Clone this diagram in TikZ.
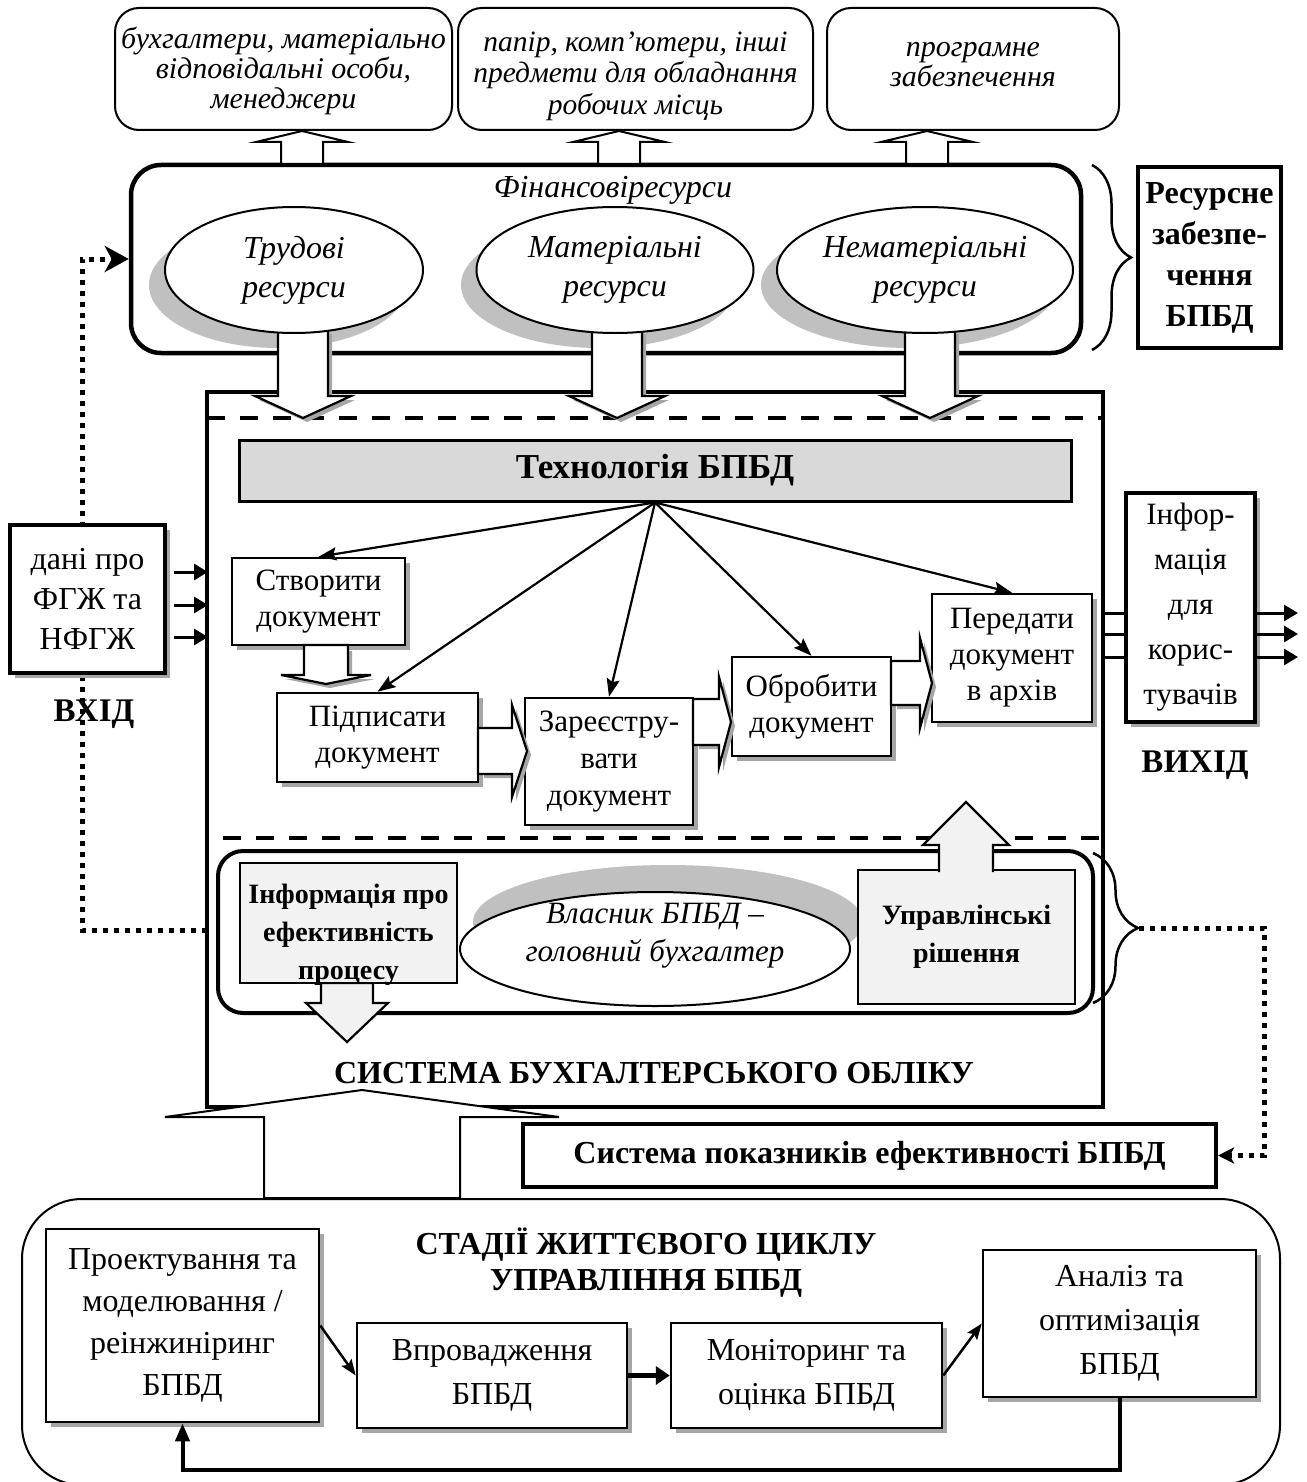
\documentclass[tikz,border=0pt]{standalone}
\usepackage{fontspec}
\setmainfont{Liberation Serif}
\usetikzlibrary{shapes.geometric,shadows,arrows.meta,decorations.pathreplacing}

\definecolor{shadowgray}{HTML}{A6A6A6}
\definecolor{ellgray}{HTML}{C0C0C0}
\definecolor{bargray}{HTML}{D9D9D9}
\definecolor{pale}{HTML}{F2F2F2}

\newcommand{\fnt}[2]{\fontsize{#1}{#2}\selectfont}
% block arrows: [style]{centre}{tail}{head base}{tip}{half shaft}{half head}
\newcommand{\blkV}[7][]{\path[#1] (#2-#6,#3) -- (#2-#6,#4) -- (#2-#7,#4) -- (#2,#5) -- (#2+#7,#4) -- (#2+#6,#4) -- (#2+#6,#3);}
\newcommand{\blkVc}[7][]{\path[#1] (#2-#6,#3) -- (#2-#6,#4) -- (#2-#7,#4) -- (#2,#5) -- (#2+#7,#4) -- (#2+#6,#4) -- (#2+#6,#3) -- cycle;}
\newcommand{\blkHc}[7][]{\path[#1] (#3,#2-#6) -- (#4,#2-#6) -- (#4,#2-#7) -- (#5,#2) -- (#4,#2+#7) -- (#4,#2+#6) -- (#3,#2+#6) -- cycle;}

\begin{document}
\begin{tikzpicture}[x=1pt,y=-1pt,
  box/.style={draw, line width=2.5pt, fill=white, inner sep=0pt, align=center, font=\fnt{31}{36}},
  shbox/.style={box, general shadow={fill=shadowgray, shadow xshift=5pt, shadow yshift=-5pt}},
  topbox/.style={draw, line width=2pt, rounded corners=24pt, fill=white, inner sep=0pt},
  toptext/.style={inner sep=0pt, align=center},
  ell/.style={ellipse, draw, line width=2pt, fill=white, inner sep=0pt, align=center, font=\itshape\fnt{32}{39}},
  harrow/.style={draw, fill=white, line width=2.2pt, line join=miter},
  hshadow/.style={fill=shadowgray, draw=none, shift={(4,4)}},
  palearrow/.style={draw, fill=pale, line width=2.2pt, line join=miter},
  fan/.style={line width=2.2pt, -{Stealth[length=18pt,width=13pt,inset=3pt]}},
  inarr/.style={line width=3pt, -{Triangle[length=14pt,width=16pt]}},
  dotline/.style={line width=5pt, dash pattern=on 5pt off 6pt},
  bracedeco/.style={line width=2.5pt, decorate, decoration={brace, amplitude=#1}},
  label/.style={inner sep=0pt, align=center, font=\bfseries\fnt{32}{36}},
  stage/.style={shbox, font=\fnt{32}{44}},
  stagearr/.style={line width=2.5pt, -{Stealth[length=16pt,width=12pt,inset=3pt]}}
]
\fill[white] (0,0) rectangle (1306,1482);
\useasboundingbox (0,0) rectangle (1306,1482);

% ---------- resources: what they provide ----------
\node[topbox, minimum width=337pt, minimum height=122pt] (t1) at (283.5,69) {};
\node[toptext, font=\itshape\fnt{30}{30}] (t1text) at (283.5,71)
  {бухгалтери, матеріально\\відповідальні особи,\\менеджери};
\node[topbox, minimum width=355pt, minimum height=122pt] (t2) at (635.5,69) {};
\node[toptext, font=\itshape\fnt{29.5}{31.5}] (t2text) at (635.5,76)
  {папір, комп’ютери, інші\\предмети для обладнання\\робочих місць};
\node[topbox, minimum width=292pt, minimum height=122pt] (t3) at (973,69) {};
\node[toptext, font=\itshape\fnt{30}{30}] (t3text) at (973,65) {програмне\\забезпечення};

% ---------- financial resources ----------
\node[draw, line width=4.5pt, rounded corners=30pt, fill=white, minimum width=950pt, minimum height=188pt] (fin) at (606,259) {};
\node[inner sep=0pt, font=\itshape\fnt{32}{32}] (fintitle) at (613,190) {Фінансовіресурси};

\blkVc[harrow, line width=2pt]{302}{164}{142}{131}{21}{46}
\blkVc[harrow, line width=2pt]{619}{164}{142}{131}{21}{46}
\blkVc[harrow, line width=2pt]{927}{164}{142}{131}{21}{46}

\node[draw, line width=4pt, fill=white, minimum width=143pt, minimum height=181pt, inner sep=0pt, align=center,
      font=\bfseries\fnt{32}{41}] (res) at (1209.5,257.5) {Ресурсне\\забезпе-\\чення\\БПБД};
\draw[bracedeco=39pt] (1092,165) -- (1092,350);

% ---------- accounting system frame ----------
\node[draw, line width=3.5pt, minimum width=896pt, minimum height=715pt, inner sep=0pt] (sys) at (655,749.5) {};
\draw[line width=4.5pt, dash pattern=on 18pt off 15pt] (207,418) -- (1103,418) -- (1103,838) -- (207,838) -- cycle;

% resource ellipses with their shadows
\fill[ellgray] (278,285) ellipse [x radius=129, y radius=63];
\fill[ellgray] (599,285) ellipse [x radius=138, y radius=63];
\fill[ellgray] (909,285) ellipse [x radius=148, y radius=63];

\blkV[hshadow]{303}{330}{396}{418}{25}{48}
\blkVc[harrow]{303}{320}{396}{418}{25}{48}
\blkV[hshadow]{617}{330}{396}{418}{25}{48}
\blkVc[harrow]{617}{320}{396}{418}{25}{48}
\blkV[hshadow]{930}{330}{396}{418}{25}{48}
\blkVc[harrow]{930}{320}{396}{418}{25}{48}

\node[ell, minimum width=258pt, minimum height=126pt] (e1) at (294,270) {Трудові\\ресурси};
\node[ell, minimum width=277pt, minimum height=126pt] (e2) at (615,270) {Матеріальні\\ресурси};
\node[ell, minimum width=296pt, minimum height=126pt] (e3) at (925,270) {Нематеріальні\\ресурси};

% ---------- document technology ----------
\node[draw, line width=3pt, fill=bargray, minimum width=832pt, minimum height=61pt, inner sep=0pt,
      font=\bfseries\fnt{35}{40}] (tech) at (655,470.5) {Технологія БПБД};

\node[shbox, minimum width=173pt, minimum height=87pt] (create) at (318.5,601.5) {Створити\\документ};
\node[shbox, minimum width=201pt, minimum height=89pt] (sign) at (377.5,737.5) {Підписати\\документ};
\node[shbox, minimum width=168pt, minimum height=127pt, font=\fnt{31}{37}] (register) at (609,761.5) {Зареєстру-\\вати\\документ};
\node[shbox, minimum width=159pt, minimum height=99pt] (process) at (811.5,706.5) {Обробити\\документ};
\node[shbox, minimum width=160pt, minimum height=128pt] (transfer) at (1012,658) {Передати\\документ\\в архів};

\draw[fan] (tech.south) -- (create.north);
\draw[fan] (tech.south) -- (sign.north);
\draw[fan] (tech.south) -- (register.north);
\draw[fan] (tech.south) -- (process.north);
\draw[fan] (tech.south) -- (transfer.north);

\blkV[hshadow]{326}{647}{675}{684}{22}{45}
\blkVc[harrow]{326}{645}{675}{684}{22}{45}
\blkHc[hshadow]{751}{480}{512}{527}{23}{46}
\blkHc[harrow]{751}{478}{512}{527}{23}{46}
\blkHc[hshadow]{722}{695}{719}{731}{23}{45}
\blkHc[harrow]{722}{693}{719}{731}{23}{45}
\blkHc[hshadow]{683}{893}{920}{932}{22}{45}
\blkHc[harrow]{683}{891}{920}{932}{22}{45}

% ---------- feedback to the financial resources ----------
\coordinate (fbL) at (207,930);
\draw[dotline, -{Stealth[length=24pt,width=26pt,inset=7pt]}] (fbL) -- (82,930) -- (82,259) -- (fin.west);

% ---------- input and output ----------
\node[shbox, line width=4pt, minimum width=155pt, minimum height=148pt, font=\fnt{32}{40}] (data) at (87.5,599) {дані про\\ФГЖ та\\НФГЖ};
\draw[inarr] ([xshift=7pt,yshift=27pt]data.east) -- ++(34,0);
\draw[inarr] ([xshift=7pt,yshift=-6pt]data.east) -- ++(34,0);
\draw[inarr] ([xshift=7pt,yshift=-38pt]data.east) -- ++(34,0);
\node[label, font=\bfseries\fnt{33}{36}] (inlabel) at (94,714) {ВХІД};

\node[shbox, line width=4pt, minimum width=129pt, minimum height=229pt, font=\fnt{31}{45}] (users) at (1190.5,607.5) {Інфор-\\мація\\для\\корис-\\тувачів};
\draw[line width=3pt] ([yshift=-5.5pt]users.west) -- ++(-23,0);
\draw[line width=3pt] ([yshift=-26.5pt]users.west) -- ++(-23,0);
\draw[line width=3pt] ([yshift=-49.5pt]users.west) -- ++(-23,0);
\draw[inarr] ([yshift=-5.5pt]users.east) -- ++(41,0);
\draw[inarr] ([yshift=-26.5pt]users.east) -- ++(41,0);
\draw[inarr] ([yshift=-49.5pt]users.east) -- ++(41,0);
\node[label, font=\bfseries\fnt{33}{36}] (outlabel) at (1195,765) {ВИХІД};

% ---------- process owner ----------
\node[draw, line width=4pt, rounded corners=25pt, fill=white, minimum width=875pt, minimum height=162pt] (owner) at (655.5,932) {};
\blkVc[palearrow]{347}{983}{1003}{1042}{26}{41}
\node[draw, line width=2pt, fill=pale, minimum width=217pt, minimum height=120pt] (info) at (348.5,923) {};
\node[inner sep=0pt, align=center, font=\bfseries\fnt{28}{38}] (infotext) at (348.5,935) {Інформація про\\ефективність\\процесу};

\fill[ellgray] (668,922) ellipse [x radius=195, y radius=57];
\node[ell, minimum width=390pt, minimum height=114pt] (head) at (655,949) {};
\node[inner sep=0pt, align=center, font=\itshape\fnt{31}{38}] (headtext) at (655,936) {Власник БПБД –\\головний бухгалтер};

\node[draw, line width=2pt, fill=pale, minimum width=217pt, minimum height=134pt, align=center,
      font=\bfseries\fnt{28}{38}] (decision) at (966.5,937) {Управлінські\\рішення};
\blkV[palearrow]{966}{872}{845}{802}{27}{43}

\draw[bracedeco=45pt] (1093,853) -- (1093,1003);
\coordinate (braceTip) at (1139,928);

\node[label] (syslabel) at (654,1073) {СИСТЕМА БУХГАЛТЕРСЬКОГО ОБЛІКУ};

\node[draw, line width=4pt, fill=white, minimum width=693pt, minimum height=63pt, inner sep=0pt,
      font=\bfseries\fnt{32}{36}] (kpi) at (869.5,1155.5) {Система показників ефективності БПБД};
\draw[dotline, -{Stealth[length=16pt,width=16pt,inset=4pt]}] (braceTip) -- (1264,928) -- (1264,1155.5) -- (kpi.east);

% ---------- life cycle ----------
\node[draw, line width=2pt, rounded corners=60pt, minimum width=1258pt, minimum height=286pt] (life) at (651,1342) {};
\blkVc[harrow, line width=2pt]{362}{1198}{1117}{1090}{98}{197}
\node[label] (lifetitle) at (646,1263) {СТАДІЇ ЖИТТЄВОГО ЦИКЛУ\\УПРАВЛІННЯ БПБД};

\node[stage, minimum width=273pt, minimum height=193pt, font=\fnt{32}{42}] (design) at (182.5,1325.5) {Проектування та\\моделювання /\\реінжиніринг\\БПБД};
\node[stage, minimum width=270pt, minimum height=105pt] (impl) at (492,1375.5) {Впровадження\\БПБД};
\node[stage, minimum width=271pt, minimum height=105pt] (mon) at (806.5,1375.5) {Моніторинг та\\оцінка БПБД};
\node[stage, minimum width=273pt, minimum height=147pt] (anal) at (1119.5,1323.5) {Аналіз та\\оптимізація\\БПБД};

\draw[stagearr] (design.east) -- (impl.west);
\draw[line width=5pt, -{Triangle[length=14pt,width=18pt]}] (impl.east) -- (mon.west);
\draw[stagearr] (mon.east) -- (anal.west);
\draw[line width=4pt, -{Triangle[length=18pt,width=14pt]}] (anal.south) -- ++(0,72) -| (design.south);
\end{tikzpicture}
\end{document}
